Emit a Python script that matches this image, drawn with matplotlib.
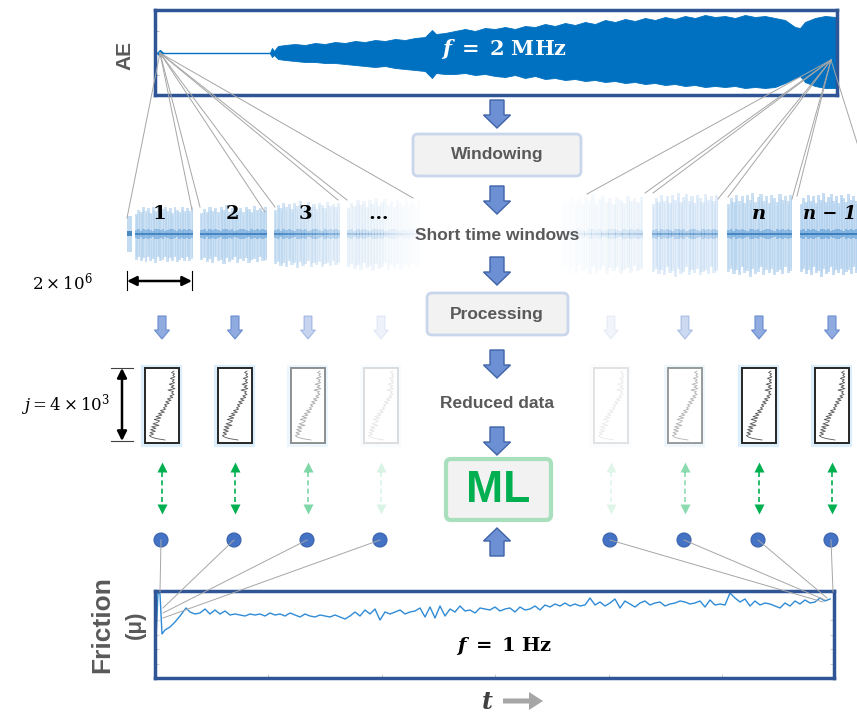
"""Workflow sketch: AE record -> short windows -> reduced data -> ML <- friction."""

import numpy as np
import matplotlib

matplotlib.use("Agg")
import matplotlib.pyplot as plt
from matplotlib.patches import Circle, FancyArrow, FancyBboxPatch, Rectangle

# --- AE record: quiet part, then envelope (above / below the baseline)
ae_quiet_end = 115
ae_t = [115, 117, 119, 123, 130, 140, 150, 160, 170, 180, 190, 200, 210, 220,
        230, 240, 250, 260, 270, 277, 281, 290, 300, 310, 320, 330, 340, 350,
        360, 370, 380, 390, 400, 410, 420, 430, 440, 450, 460, 470, 480, 490,
        500, 510, 520, 530, 540, 550, 560, 570, 580, 590, 600, 610, 620, 630,
        640, 645, 650, 660, 670, 681]
ae_up = [0.5, 5, 2, 7, 8, 9, 8, 10, 9, 11, 10, 12, 11, 13, 12, 14, 13, 15, 16,
         23, 19, 20, 22, 24, 22, 25, 24, 26, 24, 27, 26, 29, 27, 30, 28, 31,
         29, 33, 31, 34, 32, 35, 33, 36, 34, 37, 35, 38, 36, 37, 35, 38, 36,
         37, 35, 33, 26, 25, 31, 35, 37, 36]
ae_low = [0.5, 4, 2, 6, 7, 8, 9, 9, 10, 10, 11, 12, 13, 14, 13, 15, 16, 17,
          18, 25, 20, 21, 21, 20, 22, 21, 23, 24, 22, 25, 23, 26, 25, 27, 26,
          28, 27, 29, 28, 30, 29, 31, 30, 32, 31, 33, 32, 34, 33, 34, 33, 35,
          34, 35, 34, 30, 25, 23, 29, 33, 35, 35]

# --- friction record (1 Hz), coefficient x100
fric_t_start = [1, 3, 5, 7, 10, 15, 20, 25, 31]
fric_h_start = [38, 86, 84, 44, 48, 51, 56, 62, 70]
fric_h = [66, 64, 65, 69, 64, 68, 64, 67, 63, 64,
          63, 62, 64, 63, 64, 62, 65, 63, 64, 62,
          65, 63, 61, 64, 62, 61, 63, 62, 61, 63,
          61, 59, 62, 66, 62, 68, 64, 69, 58, 66,
          64, 66, 68, 64, 66, 67, 70, 61, 71, 60,
          72, 62, 69, 66, 72, 67, 68, 65, 70, 69,
          68, 71, 67, 69, 70, 66, 71, 68, 69, 72,
          68, 73, 71, 74, 72, 75, 72, 74, 72, 73,
          80, 73, 76, 72, 75, 79, 70, 77, 74, 71,
          75, 77, 73, 75, 76, 72, 74, 75, 77, 76,
          74, 75, 77, 71, 78, 73, 74, 73, 85, 80,
          76, 79, 72, 77, 73, 75, 74, 72, 70, 75,
          72, 77, 74, 78, 75, 76, 80, 77, 79]

# --- one short time window: envelope and core band half-heights
win_up = [26, 31, 28, 34, 29, 33, 27, 34, 30, 36, 28, 32, 35, 29, 33, 27,
          34, 31, 28, 35, 30, 33, 29, 34]
win_low = [33, 30, 35, 31, 36, 29, 34, 32, 37, 30, 35, 33, 29, 36, 31, 34,
           30, 36, 33, 31, 35, 29, 34, 32]
win_core = [4, 5, 3, 5, 4, 5, 4, 3, 5, 5, 4, 5, 3, 4, 5, 5, 4, 3, 5, 4, 5,
            4, 5, 4]

# --- reduced data profile (fraction of box width, top to bottom)
reduced_profile = [0.90, 0.82, 0.92, 0.86, 0.93, 0.78, 0.91, 0.84, 0.92, 0.74,
                   0.90, 0.80, 0.93, 0.70, 0.88, 0.82, 0.90,
                   0.76, 0.86, 0.68, 0.80, 0.62, 0.74, 0.58, 0.66, 0.55,
                   0.62, 0.45, 0.58, 0.38, 0.50, 0.30, 0.46, 0.24, 0.42, 0.35,
                   0.20, 0.40, 0.15, 0.30, 0.12, 0.28, 0.10, 0.22, 0.08,
                   0.15, 0.30, 0.60]

window_labels = ["1", "2", "3", "…", "", "", "n", "n − 1"]
stage_boxes = ["Windowing", "Processing"]
stage_texts = ["Short time windows", "Reduced data"]

GRAY = "#595959"
NAVY = "#2F5597"
ARROW_FC = "#6D8FD3"
ARROW_EC = "#3F63A8"

# column layout (pixels)
col_x = [162, 235, 308, 381, 611, 685, 759, 832]
col_alpha = [1.0, 1.0, 0.5, 0.15, 0.12, 0.45, 1.0, 1.0]
win_span = [(135, 193), (200, 267), (274, 340), (347, 420),
            (560, 643), (652, 718), (727, 792), (800, 860)]
win_scale = [0.78, 0.8, 0.92, 1.0, 1.1, 1.15, 1.15, 1.15]
win_fade = [(0.8, 0.8), (0.8, 0.8), (0.75, 0.35), (0.3, 0.03),
            (0.02, 0.25), (0.45, 0.45), (0.8, 0.8), (0.9, 0.9)]


def block_arrow(ax, x, y0, y1, shaft=14, head_w=27, head_l=13,
                fc=ARROW_FC, ec=ARROW_EC, alpha=1.0, lw=1.0):
    ax.add_patch(FancyArrow(x, y0, 0, y1 - y0, width=shaft, head_width=head_w,
                            head_length=head_l, length_includes_head=True,
                            fc=fc, ec=ec, lw=lw, alpha=alpha, zorder=4))


def stage_box(ax, x0, y0, x1, y1, ec, lw=2.0):
    ax.add_patch(FancyBboxPatch((x0, y0), x1 - x0, y1 - y0,
                                boxstyle="round,pad=0,rounding_size=5",
                                fc="#F2F2F2", ec=ec, lw=lw, zorder=4))


def draw_window(ax, x0, x1, yc, scale, a0, a1):
    n = len(win_up)
    w = (x1 - x0) / n
    xs = x0 + w / 2 + np.arange(n) * w
    alphas = np.linspace(a0, a1, n)
    for x, u, lo, c, a in zip(xs, win_up, win_low, win_core, alphas):
        ax.add_patch(Rectangle((x - w / 2, yc - u * scale), w + 0.4,
                               (u + lo) * scale, fc="#B3D2EE", ec="none",
                               lw=0, alpha=a * 0.85, zorder=2))
        ax.plot([x, x], [yc - u * scale * 0.9, yc + lo * scale * 0.9],
                color="#8DBBE4", lw=0.5, alpha=a * 0.45, zorder=2)
        ax.add_patch(Rectangle((x - w / 2, yc - c), w + 0.4, 2 * c,
                               fc="#6FA7DB", ec="none", lw=0, alpha=a * 0.8,
                               zorder=2))
        ax.add_patch(Rectangle((x - w / 2, yc - 1.2), w + 0.4, 2.4,
                               fc="#2E75B6", ec="none", lw=0, alpha=a * 0.9,
                               zorder=2))


def draw_reduced(ax, xc, alpha):
    x0, y0, w, h = xc - 17, 368, 34, 75
    ax.add_patch(Rectangle((x0 - 1.5, y0 - 1.5), w + 3, h + 3, fc="none",
                           ec="#DCEEFB", lw=3, alpha=alpha, zorder=3))
    ax.add_patch(Rectangle((x0, y0), w, h, fc="white", ec="#262626", lw=1.4,
                           alpha=alpha, zorder=3))
    prof = np.array(reduced_profile)
    px = x0 + 2 + prof * (w - 4)
    py = np.linspace(y0 + 3, y0 + h - 3, len(prof))
    ax.plot(px, py, color="#555555", lw=0.6, alpha=alpha, zorder=3)


def main():
    plt.rcParams["mathtext.fontset"] = "dejavuserif"
    fig = plt.figure(figsize=(8.57, 7.13), dpi=100)

    ax = fig.add_axes([0, 0, 1, 1])
    ax.set_xlim(0, 857)
    ax.set_ylim(713, 0)
    ax.axis("off")

    # AE record
    ax_ae = fig.add_axes([155 / 857, 1 - 95 / 713, 682 / 857, 85 / 713])
    ax_ae.set_xlim(0, 682)
    ax_ae.set_ylim(-42, 43)
    ax_ae.plot([3, ae_quiet_end], [0, 0], color="#0070C0", lw=1.0)
    ax_ae.plot([5], [0], marker="D", ms=3, color="#0070C0")
    ax_ae.fill_between(ae_t, [-v for v in ae_low], ae_up, color="#0070C0",
                       lw=0.6, ec="#0070C0")
    ax_ae.set_xticks([])
    ax_ae.set_yticks([22, -22])
    ax_ae.tick_params(axis="y", direction="in", length=3, color="#BFBFBF",
                      labelleft=False)
    for sp in ax_ae.spines.values():
        sp.set_color(NAVY)
        sp.set_linewidth(2.5)

    # friction record
    fric_t = np.concatenate([fric_t_start,
                             np.arange(35, 35 + 5 * len(fric_h), 5)])
    fric_mu = np.concatenate([fric_h_start, fric_h]) / 100.0
    ax_fr = fig.add_axes([155 / 857, 1 - 678 / 713, 679 / 857, 87 / 713])
    ax_fr.set_xlim(0, 679)
    ax_fr.set_ylim(0, 0.87)
    ax_fr.plot(fric_t, fric_mu, color="#2F8BD6", lw=1.0)
    ax_fr.set_xticks([113, 227, 340, 454, 567])
    ax_fr.set_yticks([0.14, 0.29, 0.43, 0.58])
    ax_fr.tick_params(direction="in", length=3, color="#D0D0D0", left=True,
                      right=True, labelleft=False, labelbottom=False)
    for sp in ax_fr.spines.values():
        sp.set_color(NAVY)
        sp.set_linewidth(2.5)

    top = fig.add_axes([0, 0, 1, 1], facecolor="none")
    top.set_xlim(0, 857)
    top.set_ylim(713, 0)
    top.axis("off")
    top.set_zorder(10)

    # side labels
    ax.text(125, 55, "AE", rotation=90, ha="center", va="center", color=GRAY,
            fontsize=15, fontweight="bold", family="Liberation Sans")
    ax.text(102, 625, "Friction", rotation=90, ha="center", va="center",
            color=GRAY, fontsize=19, fontweight="bold", family="Liberation Sans")
    ax.text(135, 625, "(μ)", rotation=90, ha="center", va="center",
            color=GRAY, fontsize=16, fontweight="bold", family="Liberation Sans")
    top.text(504, 49, r"$\mathbfit{f}\ \mathbf{=\ 2\ MHz}$", color="white",
             fontsize=15, ha="center", va="center")
    top.text(504, 646, r"$\mathbfit{f}\ \mathbf{=\ 1\ Hz}$", color="black",
             fontsize=14, ha="center", va="center")

    # fan lines from the records
    left_src = (160, 53)
    left_dst = [(127, 218), (192, 210), (200, 207), (265, 212), (275, 207),
                (338, 200), (347, 200), (413, 198)]
    right_src = (831, 60)
    right_dst = [(587, 194), (645, 193), (653, 193), (718, 199), (728, 197),
                 (792, 199), (797, 196), (875, 200)]
    for dx, dy in left_dst:
        top.plot([left_src[0], dx], [left_src[1], dy], color="#A6A6A6", lw=0.7)
    for dx, dy in right_dst:
        top.plot([right_src[0], dx], [right_src[1], dy], color="#A6A6A6", lw=0.7)

    fric_dst = [(160, 592), (163, 608), (163, 613), (163, 618),
                (823, 602), (825, 600), (827, 598), (833, 592)]
    for xc, (fx, fy) in zip(col_x, fric_dst):
        top.plot([xc - 1, fx], [540, fy], color="#A6A6A6", lw=0.7)

    # short time windows, reduced data, links and dots per column
    for i, xc in enumerate(col_x):
        a = col_alpha[i]
        x0, x1 = win_span[i]
        draw_window(ax, x0, x1, 234, win_scale[i], *win_fade[i])
        block_arrow(ax, xc, 316, 339, shaft=8, head_w=15, head_l=9,
                    fc="#8FABE0", ec="#6A8CCF", alpha=a, lw=0.8)
        draw_reduced(ax, xc, a)
        ax.plot([xc, xc], [472, 503], color="#00B050", lw=1.2, ls=(0, (3, 2)),
                alpha=a)
        ax.plot([xc], [467], marker="^", ms=7, color="#00B050", alpha=a, mec="none")
        ax.plot([xc], [509], marker="v", ms=7, color="#00B050", alpha=a, mec="none")
        ax.add_patch(Circle((xc - 1, 540), 7, fc="#4472C4", ec="#3A62AA",
                            lw=0.8, zorder=5))
    ax.add_patch(Rectangle((127, 216), 5, 36, fc="#B3D2EE", ec="none",
                           alpha=0.8, zorder=2))
    ax.add_patch(Rectangle((127, 231), 5, 5, fc="#2E75B6", ec="none",
                           alpha=0.8, zorder=2))

    for xc, lab in zip(col_x, window_labels):
        if not lab:
            continue
        italic = lab.startswith("n")
        if lab == "n − 1":
            ax.text(803, 214, lab, ha="left", va="center", fontsize=13,
                    fontweight="bold", fontstyle="italic",
                    family="DejaVu Serif", color="black", zorder=6)
            continue
        ax.text(xc - 3 if not italic else xc, 214, lab, ha="center",
                va="center", fontsize=14, fontweight="bold",
                fontstyle="italic" if italic else "normal",
                family="DejaVu Serif", color="black", zorder=6)

    # scale markers
    ax.annotate("", xy=(127, 281), xytext=(192, 281),
                arrowprops=dict(arrowstyle="<|-|>", color="black", lw=1.8,
                                mutation_scale=14, shrinkA=0, shrinkB=0))
    ax.plot([127, 127], [271, 290], color="black", lw=0.8)
    ax.plot([192, 192], [271, 290], color="black", lw=0.8)
    ax.text(62, 282, r"$2\times10^6$", ha="center", va="center", fontsize=12)

    ax.annotate("", xy=(122, 368), xytext=(122, 441),
                arrowprops=dict(arrowstyle="<|-|>", color="black", lw=1.8,
                                mutation_scale=14, shrinkA=0, shrinkB=0))
    ax.plot([111, 133], [368, 368], color="#404040", lw=0.8)
    ax.plot([111, 133], [441, 441], color="#404040", lw=0.8)
    ax.text(66, 405, r"$j = 4\times10^3$", ha="center", va="center",
            fontsize=12)

    # central pipeline
    for y0, y1 in [(100, 128), (186, 214), (257, 285), (350, 378), (427, 455)]:
        block_arrow(ax, 497, y0, y1)
    block_arrow(ax, 497, 556, 528)

    stage_box(ax, 413, 134, 581, 176, "#C9D6EC")
    stage_box(ax, 427, 293, 568, 335, "#C9D6EC")
    for y, lab in zip([155, 314], stage_boxes):
        ax.text(497, y, lab, ha="center", va="center", color=GRAY,
                fontsize=12.5, fontweight="bold", family="Liberation Sans",
                zorder=5)
    for y, lab in zip([235, 403], stage_texts):
        ax.text(497, y, lab, ha="center", va="center", color=GRAY,
                fontsize=12.5, fontweight="bold", family="Liberation Sans",
                zorder=5)

    stage_box(ax, 446, 459, 551, 520, "#A8E0BE", lw=3)
    ax.text(498, 490, "ML", ha="center", va="center", color="#00B050",
            fontsize=32, fontweight="bold", family="Liberation Sans", zorder=5)

    # time axis hint
    ax.text(487, 702, "t", ha="center", va="center", fontsize=17,
            fontstyle="italic", fontweight="bold", family="DejaVu Serif",
            color="#404040")
    ax.add_patch(FancyArrow(503, 701, 40, 0, width=5, head_width=18,
                            head_length=14, length_includes_head=True,
                            fc="#A6A6A6", ec="none"))

    fig.savefig("out.png", dpi=100)
    plt.close(fig)


if __name__ == "__main__":
    main()
